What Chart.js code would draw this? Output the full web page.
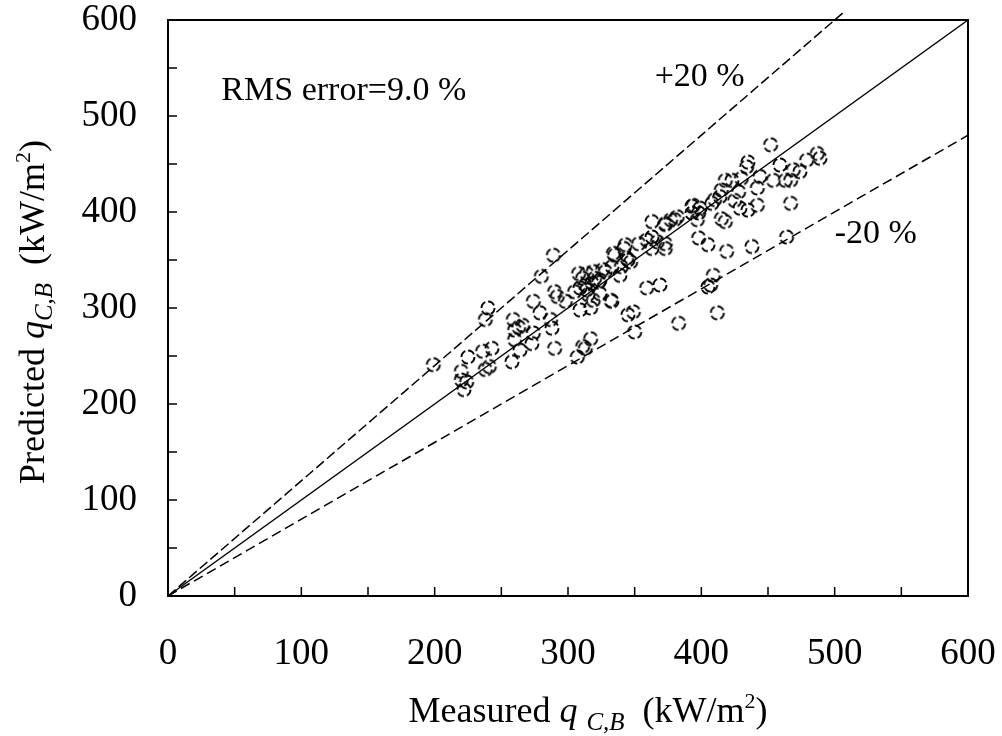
<!DOCTYPE html>
<html>
<head>
<meta charset="utf-8">
<script src="https://cdn.jsdelivr.net/npm/chart.js@4"></script>
<style>
  html, body { margin: 0; padding: 0; background: #fff; }
  #wrap { width: 1002px; height: 736px; }
</style>
</head>
<body>
<div id="wrap"><canvas id="parity"></canvas></div>
<script>
// measured vs predicted heat flux, kW/m2
var measured = [199, 220, 220, 222, 224, 225, 236, 243, 241, 238, 238, 240,
  259, 260, 263, 266, 260, 258, 264, 273, 274, 274, 279, 280, 289, 290, 292, 287, 288, 290,
  298, 305, 308, 309, 313, 315, 319, 320, 323, 319, 317, 309, 311, 314, 324, 324, 318, 314,
  326, 333, 340, 339, 334, 344, 347, 345, 343, 353, 359, 363, 367, 363, 373, 363, 373, 380,
  393, 398, 398, 332, 333, 328, 335, 342, 359, 369, 345, 349, 350, 317, 313, 307, 383, 311,
  464, 438, 419, 405, 409, 405, 407, 412, 452, 487, 489, 479, 474, 467, 459, 454, 444, 442,
  435, 434, 430, 423, 418, 428, 415, 414, 410, 408, 425, 429, 435, 442, 467, 415, 399, 394,
  393, 397, 382, 377, 373, 373, 418, 469, 463];
var predicted = [241, 234, 225, 215, 223, 249, 255, 258, 239, 236, 288, 300,
  288, 277, 280, 282, 267, 244, 256, 263, 274, 307, 295, 333, 355, 317, 312, 288, 279, 258,
  307, 317, 336, 321, 324, 314, 338, 331, 327, 308, 300, 298, 331, 319, 329, 315, 326, 336,
  340, 343, 343, 334, 357, 352, 348, 350, 366, 367, 371, 374, 369, 362, 362, 390, 388, 392,
  406, 399, 373, 308, 307, 338, 355, 362, 321, 324, 293, 296, 275, 268, 258, 249, 284, 260,
  374, 364, 359, 366, 334, 322, 324, 295, 470, 461, 456, 454, 442, 433, 449, 433, 437, 425,
  452, 447, 435, 433, 433, 421, 423, 416, 413, 409, 412, 404, 402, 407, 409, 393, 404, 407,
  399, 392, 395, 392, 387, 367, 390, 444, 433];

// reference lines y = k*x
var lineSlopes = [1, 1.2, 0.8];
var lineEndX = [600, 506, 600];
var lineDashes = [[], [10, 4], [10, 5]];
var bandLabels = ['+20 %', '-20 %'];
var bandLabelPos = [[365, 531], [500, 368]];
var rmsText = 'RMS error=9.0 %';
var rmsPos = [40, 517];
var axisMax = 600;

var serif = "'Liberation Serif', 'Times New Roman', serif";

// dashed open circle marker
var dot = document.createElement('canvas');
dot.width = 18; dot.height = 18;
var dc = dot.getContext('2d');
dc.strokeStyle = '#000';
dc.lineWidth = 1.9;
dc.setLineDash([7, 3]);
dc.beginPath();
dc.arc(9, 9, 6.5, 0, Math.PI * 2);
dc.stroke();

var points = measured.map(function (m, i) { return { x: m, y: predicted[i] }; });

var datasets = [{
  type: 'scatter',
  label: 'data',
  data: points,
  pointStyle: dot,
  pointRadius: 7,
  order: 0
}];
lineSlopes.forEach(function (k, i) {
  datasets.push({
    type: 'line',
    label: 'k' + k,
    data: [{ x: 0, y: 0 }, { x: lineEndX[i], y: k * lineEndX[i] }],
    borderColor: '#000',
    borderWidth: 1.5,
    borderDash: lineDashes[i],
    pointRadius: 0,
    fill: false,
    clip: false,
    order: 1
  });
});

function drawRich(ctx, parts, cx, y) {
  var total = 0;
  parts.forEach(function (p) { ctx.font = p.f; p.w = ctx.measureText(p.t).width; total += p.w; });
  var x = cx - total / 2;
  ctx.textAlign = 'left';
  ctx.textBaseline = 'alphabetic';
  parts.forEach(function (p) {
    ctx.font = p.f;
    ctx.fillText(p.t, x, y + (p.dy || 0));
    x += p.w;
  });
}

var frameAndText = {
  id: 'frameAndText',
  afterDraw: function (chart) {
    var ctx = chart.ctx, a = chart.chartArea;
    var xs = chart.scales.x, ys = chart.scales.y;
    ctx.save();
    ctx.strokeStyle = '#000';
    ctx.fillStyle = '#000';
    // frame
    ctx.lineWidth = 2;
    ctx.strokeRect(a.left, a.top, a.right - a.left, a.bottom - a.top);
    // inward ticks
    ctx.lineWidth = 1.5;
    ctx.beginPath();
    xs.ticks.forEach(function (t) {
      var px = xs.getPixelForValue(t.value);
      ctx.moveTo(px, a.bottom); ctx.lineTo(px, a.bottom - 9);
    });
    ys.ticks.forEach(function (t) {
      var py = ys.getPixelForValue(t.value);
      ctx.moveTo(a.left, py); ctx.lineTo(a.left + 9, py);
    });
    ctx.stroke();

    // annotations
    ctx.font = '34px ' + serif;
    ctx.textAlign = 'left';
    ctx.textBaseline = 'alphabetic';
    ctx.fillText(rmsText, xs.getPixelForValue(rmsPos[0]), ys.getPixelForValue(rmsPos[1]));
    bandLabels.forEach(function (s, i) {
      ctx.fillText(s, xs.getPixelForValue(bandLabelPos[i][0]), ys.getPixelForValue(bandLabelPos[i][1]));
    });

    // axis titles
    var reg = '36px ' + serif, ital = 'italic 36px ' + serif;
    var sub = 'italic 25px ' + serif, sup = '22px ' + serif;
    drawRich(ctx, [
      { t: 'Measured ', f: reg }, { t: 'q', f: ital }, { t: ' ', f: reg },
      { t: 'C,B', f: sub, dy: 8 }, { t: '  (kW/m', f: reg },
      { t: '2', f: sup, dy: -14 }, { t: ')', f: reg }
    ], 588, 722);

    ctx.translate(44, 312);
    ctx.rotate(-Math.PI / 2);
    drawRich(ctx, [
      { t: 'Predicted ', f: reg }, { t: 'q', f: ital },
      { t: 'C,B', f: sub, dy: 8 }, { t: '  (kW/m', f: reg },
      { t: '2', f: sup, dy: -14 }, { t: ')', f: reg }
    ], 0, 0);
    ctx.restore();
  }
};

var tickFont = { size: 37, family: serif, lineHeight: 1 };

new Chart(document.getElementById('parity'), {
  type: 'scatter',
  data: { datasets: datasets },
  options: {
    responsive: true,
    maintainAspectRatio: false,
    animation: false,
    layout: { padding: { left: 0, right: 34, top: 20, bottom: 0 } },
    plugins: {
      legend: { display: false },
      tooltip: { enabled: false }
    },
    scales: {
      x: {
        type: 'linear',
        min: 0,
        max: axisMax,
        grid: { display: false, drawTicks: false },
        border: { display: false },
        ticks: {
          stepSize: 50,
          padding: 40,
          color: '#000',
          font: tickFont,
          maxRotation: 0,
          callback: function (v) { return v % 100 === 0 ? v : ''; }
        },
        afterFit: function (s) { s.height = 140; s.paddingLeft = 0; s.paddingRight = 0; }
      },
      y: {
        type: 'linear',
        min: 0,
        max: axisMax,
        grid: { display: false, drawTicks: false },
        border: { display: false },
        ticks: {
          stepSize: 50,
          padding: 31,
          color: '#000',
          font: tickFont,
          callback: function (v) { return v % 100 === 0 ? v : ''; }
        },
        afterFit: function (s) { s.width = 168; s.paddingTop = 0; s.paddingBottom = 0; }
      }
    }
  },
  plugins: [frameAndText]
});
</script>
</body>
</html>
